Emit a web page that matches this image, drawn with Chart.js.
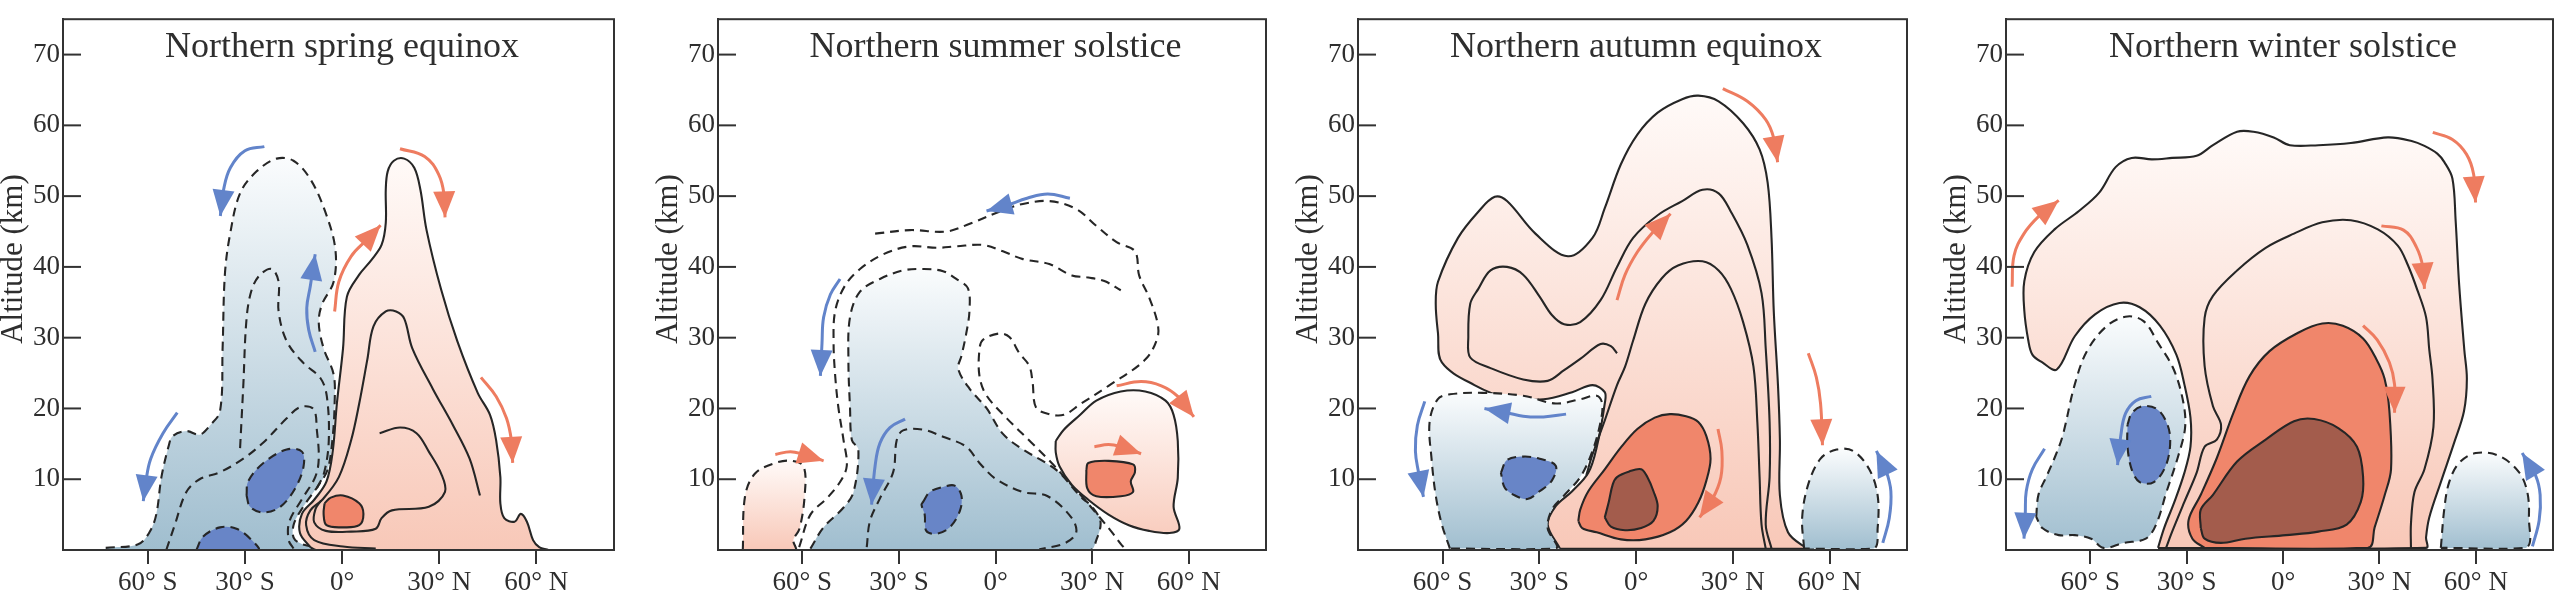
<!DOCTYPE html>
<html>
<head>
<meta charset="utf-8">
<script src="https://cdn.jsdelivr.net/npm/chart.js@4.4.1/dist/chart.umd.min.js"></script>
<style>
  html, body { margin: 0; padding: 0; background: #fff; }
  body { width: 2560px; height: 596px; position: relative; overflow: hidden; }
  .panel { position: absolute; top: 0; height: 596px; }
</style>
</head>
<body>
<div class="panel"><canvas id="c0"></canvas></div>
<div class="panel"><canvas id="c1"></canvas></div>
<div class="panel"><canvas id="c2"></canvas></div>
<div class="panel"><canvas id="c3"></canvas></div>
<script>
// axes
const xTicks = [-60, -30, 0, 30, 60];
const xTickLabels = ['60° S', '30° S', '0°', '30° N', '60° N'];
const yTicks = [10, 20, 30, 40, 50, 60, 70];
const panelTitles = ['Northern spring equinox', 'Northern summer solstice', 'Northern autumn equinox', 'Northern winter solstice'];

// contours: [latitude, altitude km]
// --- spring equinox
const springBlueOuter = [[-73,0.3],[-63,0.8],[-59.5,2.5],[-57.4,5],[-55.8,10.3],[-53.5,14.8],[-52.3,16.1],[-48.1,16.8],[-44,16.3],[-40.8,17.6],[-37.7,19.6],[-36.9,28.5],[-36.2,38.9],[-34.6,44.6],[-31.5,50.4],[-26.4,53.5],[-20.2,55.3],[-15,55],[-9.8,52.4],[-5.2,47.8],[-2.1,42.6],[-2.6,37.9],[-6.2,34.7],[-7.2,32.1],[-5.7,28.5],[-2.6,24.8],[-2.3,20.7],[-3,15.5],[-4.5,11.3],[-7.5,9],[-12,6.1],[-15,3.5],[-14.5,1.4],[-8,0.4],[5,0],[-73,0]];
const springBlueA = [[-54.3,0],[-51.7,3.5],[-48.1,8.2],[-44,10],[-37.7,11],[-30.5,12.9],[-24.3,15.2],[-17.1,18.6],[-12.9,20.2],[-8.8,19.9],[-7.8,17],[-7.2,12.9],[-8.3,10.3],[-12.5,7.1],[-16.3,4],[-16.5,1.4],[-15,0.2]];
const springBlueB = [[-31.5,14.4],[-30.5,23.3],[-29.5,32.7],[-27.9,36.8],[-25.3,38.9],[-21.7,39.7],[-19.6,37.9],[-19.6,33.7],[-17.1,29.5],[-11.9,26.4],[-6.7,24.3],[-4.7,21.7],[-4.1,15.5],[-5.5,11],[-8,8.5]];
const springBlueCore1 = [[-29.5,7.7],[-29,9.7],[-24.3,12.3],[-17.1,14.2],[-12.4,13.9],[-11.9,11.8],[-14.5,8.7],[-19.1,6.1],[-24.3,5.3],[-28.4,6.1]];
const springBlueCore2 = [[-45,0],[-42.9,1.9],[-37.7,3.2],[-32.6,3],[-27.9,1.4],[-25.9,0]];
const springRedOuter = [[-9.8,0.4],[-13,2.4],[-12.4,5.1],[-8.6,7.1],[-4.8,9.7],[-2.9,13.9],[-1.6,20.7],[0.3,28.5],[1.5,35.8],[5.3,38.9],[9.1,41],[12.2,43.1],[13.5,46.2],[13.5,50.9],[14.1,53.5],[16,55],[19.2,55.3],[22.3,54],[24.2,50.9],[26.1,45.2],[30.6,36.8],[35.6,29.5],[41.9,22.2],[45.7,19.1],[47.6,15.5],[48.9,10.3],[48.9,6.6],[50.1,4.5],[53.3,4],[55.2,5.1],[57.1,4],[59,1.4],[60.9,0.4],[63.4,0],[-8,0]];
const springRed3 = [[42.6,7.7],[39.4,12.9],[34.3,17.6],[28,22.8],[21.7,28.5],[19.2,32.7],[16.7,33.7],[13.5,33.7],[9.7,31.6],[7.8,26.9],[5.3,20.7],[2.8,15.5],[-1,10.3],[-6.1,7.1],[-9.8,5.6],[-11.1,3.5],[-8.6,1.4],[0.3,0.5],[10.4,0.2]];
const springRed2 = [[11.6,16.5],[17.9,17.3],[23,16.5],[26.8,13.9],[30.6,10.8],[31.8,8.2],[26.8,6.1],[15.4,5.6],[12.2,4.5],[10.4,3],[2.8,2.6],[-5,2.7],[-8.6,3.9],[-8.2,5.8],[-6.5,7]];
const springRedCore = [[-5.4,6.6],[-3.5,7.4],[0.3,7.7],[5.3,6.6],[6.6,5.1],[5.3,3.5],[0.3,3.2],[-4.8,3.5],[-5.7,5.1]];
const springBlueArrows = [
  [[-50.9,19.4],[-55.3,16.5],[-59.1,12.9],[-60.6,9.7],[-61.4,6.9]],
  [[-24,57],[-30,56.4],[-34.5,54],[-36.6,50.9],[-37.6,47.2]],
  [[-8.3,28],[-10.3,31.1],[-10.9,34.2],[-9.8,37.3],[-8.3,41.8]]
];
const springRedArrows = [
  [[-2.3,33.7],[-1,37.9],[2.8,41.5],[7.8,43.9],[11.9,45.9]],
  [[17.9,56.7],[25.5,55.6],[29.9,53],[31.6,49.9],[31.8,47]],
  [[42.9,24.4],[47.6,21.7],[50.8,18.6],[52.3,15.5],[52.7,12.3]]
];

// --- summer solstice
const summerBlueFill = [[-57.5,0.2],[-53.4,3.2],[-47.2,6],[-44.1,8.2],[-42.6,14.2],[-44.6,15.5],[-45.2,20.1],[-45.7,26.9],[-45.2,32.9],[-42.1,36.5],[-35.9,38.3],[-28.7,39.5],[-22.5,39.7],[-16.3,39.4],[-12.2,38.3],[-8.6,37],[-8.1,33.8],[-9.1,30.6],[-10.6,27.4],[-11.6,25.6],[-8.1,22.8],[-2.9,20.1],[2.3,16.4],[8.5,14.2],[15.7,12.3],[19.9,10.9],[26.3,7.6],[30,6.1],[32.6,4],[31.3,1.4],[29.4,0],[-57.5,0]];
const summerLineY = [[-61,0.4],[-57.5,5],[-52.4,7.3],[-48.3,9.6],[-46.2,11.9],[-47.2,15.5],[-48.8,20.1],[-49.8,24.6],[-50.3,29.2],[-49.8,33.8],[-46.7,37.4],[-42.1,39.7],[-34.8,41.8],[-26.6,42.9],[-18.3,42.7],[-12.2,42.9],[-3.9,43.1],[2.3,42.2],[8.5,41.1],[16.7,40.4],[23.7,38.8],[28.8,38.5],[33.8,38],[38.9,36.7]];
const summerLineX = [[-37.4,44.7],[-26.6,45.2],[-15.3,45],[-8,46.1],[2.3,48],[8.5,48.9],[16.7,49.3],[25,48.2],[31.3,45.8],[37.6,43.5],[43.3,42.2],[44.6,38.8],[47.7,35.7],[50.3,32.1],[50.3,30],[46.5,26.9],[35.1,23.2],[26.3,20.6],[21.2,19.1],[16.7,19.2],[12.6,20.1],[11.5,23.7],[10.5,26],[7.4,27.8],[4.3,30.1],[1.2,30.6],[-3.9,29.7],[-5,28.3],[-5,24.6],[-2.9,21.9],[3.5,18.6],[11.1,15.2],[17,12.5],[22,10],[27.5,7.2],[32,4.8],[36,2.6],[39,0.8],[40.2,0.2]];
const summerInner = [[-40,0.4],[-39,4.1],[-35.9,7.3],[-31.8,11],[-30.7,15.5],[-28.7,16.9],[-22.5,17],[-16.3,16],[-9.1,14.6],[-5,12.3],[0.2,10],[8.5,8.2],[16.2,7.6],[23.7,4.5],[25,2.4],[21.2,0.9],[13.6,0.1]];
const summerBlueCore = [[-22.5,6.8],[-20.4,8.2],[-16.3,8.9],[-12.7,9.1],[-10.6,7.7],[-11.1,5.5],[-14.2,3.2],[-18.3,2.3],[-21.5,2.7],[-22,5],[-23,6.4]];
const summerRedLeft = [[-78.5,0],[-77.8,7.6],[-74.7,10.8],[-68.4,12.3],[-63.4,12.6],[-59.6,11.8],[-59.3,7.6],[-60.9,3],[-62.8,1.4],[-62.2,0]];
const summerRedRight = [[18.7,15.4],[21.2,17],[26.3,19.1],[31.3,21.1],[38.9,22.4],[46.5,22.4],[52.8,21.1],[55.3,19.1],[56.6,15.4],[56.6,10.2],[55.3,6.1],[57.1,3],[54,2.4],[47.7,2.7],[41.4,3.5],[35.1,5],[28.8,7.1],[23.7,9.2],[19.9,11.8],[18.7,13.8]];
const summerRedCore = [[28.2,11.3],[28.8,12.3],[35.1,12.6],[42.7,12.1],[43.3,11],[42,9.7],[42.7,8.2],[38.9,7.6],[31.3,7.6],[28.5,8.7]];
const summerBlueArrows = [
  [[23.1,49.7],[16.2,50.3],[9.8,49.7],[3.5,48.7],[-2.8,47.9]],
  [[-48.3,38.3],[-51.3,36.1],[-53.4,32.9],[-53.9,29.2],[-54.4,24.6]],
  [[-28.1,18.5],[-32.8,17.3],[-35.9,15.1],[-37.4,11.9],[-38.5,6.4]]
];
const summerRedArrows = [
  [[-68.4,13.5],[-63.7,13.9],[-59.6,13.5],[-53.4,12.6]],
  [[37.6,23.2],[45.2,23.8],[51.5,23.2],[56.6,21.7],[61.6,18.8]],
  [[30.7,14.6],[35.1,14.9],[38.9,14.6],[45.2,13.6]]
];

// --- autumn equinox
const autumnRedOuter = [[-23.6,0.2],[-27.4,3.6],[-24.9,6.2],[-19.8,8.3],[-14.8,10.9],[-12.2,14.5],[-9.7,20.7],[-9.7,22.3],[-13.5,23.3],[-19.8,22.3],[-28.7,21.3],[-40,21.5],[-50.1,23.3],[-60.2,26.5],[-61.4,30.6],[-62.1,34.8],[-61.4,37.9],[-55.2,44.1],[-48.9,47.8],[-43.8,49.9],[-40,49.3],[-31.2,44.7],[-21.1,41.5],[-13.5,44.1],[-9.7,48.3],[-4.7,54.5],[0.4,58.7],[6.7,61.8],[14.3,63.7],[19.3,64.2],[25.6,63.4],[33.2,60.3],[38.3,56.6],[40.8,51.9],[42,44.1],[42.7,33.7],[44,23.3],[44.6,15.5],[44.6,7.7],[47.1,2.5],[52.1,0.5],[54.7,0.2]];
const autumnRed2 = [[-5.9,27.8],[-7.8,28.8],[-11,29.1],[-17.3,27],[-22.3,25.4],[-27.4,23.9],[-35,24.1],[-45.1,25.7],[-51.4,27.2],[-52,30.1],[-51.4,34.8],[-48.9,36.9],[-45.1,39.5],[-40,40],[-35,38.9],[-29.9,35.8],[-26.1,33.2],[-22.3,31.9],[-17.3,32.2],[-11,35.3],[-5.9,40],[-0.9,44.1],[6.7,47.3],[14.3,49.3],[20.6,50.9],[25.6,50.4],[29.4,47.8],[34.5,43.1],[38.9,36.3],[40.2,28.5],[41.4,18.1],[41.4,10.3],[40.2,3.6],[42,0.2]];
const autumnRed3 = [[-15.4,10.6],[-13.5,13.5],[-9.7,18.3],[-5.9,23.3],[-3.4,25.9],[-0.9,29.6],[2.9,34.8],[8,38.4],[13,40.2],[20.6,40.8],[25.6,39.5],[29.4,36.9],[33.2,32.2],[36.4,25.9],[37.6,18.1],[38.3,10.3],[38.9,3.6],[40.2,0.2]];
const autumnRedMid = [[-17.9,4.1],[-17.3,5.7],[-14.8,8.3],[-9.7,11.4],[-4.7,14.5],[0.4,17.1],[5.8,18.7],[10.5,19.2],[15.5,18.9],[19.3,18.1],[21.8,16.1],[23.1,12.9],[21.8,9.8],[19.3,6.7],[15.5,4.1],[10.5,2.5],[2.9,1.5],[-4.7,1.5],[-12.2,2.5],[-16.7,3.1]];
const autumnRedCore = [[-9.7,4.6],[-8.5,6.7],[-7.2,9.3],[-5.9,10.3],[-2.1,11.1],[1.6,11.4],[3.5,10.3],[5.4,8.3],[6.7,6.2],[5.4,4.1],[1.6,3.1],[-3.4,2.8],[-7.8,3.3]];
const autumnBlueLeft = [[-57.7,0.2],[-60.2,3.6],[-62.1,7.7],[-63.4,12.9],[-64,18.1],[-61.5,21.3],[-57.7,22],[-47.6,22.2],[-35,21.8],[-24.9,20.7],[-17.3,21.3],[-12.2,21.8],[-10.5,20.7],[-11,18.1],[-13.5,14],[-17.3,10.3],[-22.3,7.7],[-26.1,5.7],[-27.4,3.1],[-24.9,0.2]];
const autumnBlueCore = [[-41.9,10.9],[-40,12.7],[-35,13.2],[-29.9,12.9],[-24.9,11.9],[-26.1,9.8],[-29.9,8.3],[-33.7,7.2],[-37.5,7.7],[-40.7,8.8]];
const autumnBlueRight = [[52.1,0.2],[51.5,4.6],[53.4,9.3],[57.2,12.9],[62.2,14.2],[67.3,14],[72.3,11.4],[74.9,7.7],[74.9,3.1],[73.6,0.2]];
const autumnBlueArrows = [
  [[-65.5,21],[-67.8,17.6],[-68.4,14],[-67.4,10.9],[-65.9,7.5]],
  [[-21.7,19.2],[-28.7,18.8],[-35,18.9],[-40,19.4],[-47,20]],
  [[76.5,1],[78.5,4.5],[79,8.3],[77.5,11.2],[74.5,14]]
];
const autumnRedArrows = [
  [[26.9,65.2],[34.5,63.4],[40.2,60.8],[42.7,58.2],[43.9,54.8]],
  [[-5.9,35.3],[-3.4,38.9],[0.4,42.1],[4.8,44.7],[10.7,47.5]],
  [[53.4,27.8],[55.9,24.4],[57.2,20.7],[57.8,14.8]],
  [[25.4,17.1],[26.6,14],[26.3,10.3],[23.7,7.2],[19.7,4.6]]
];

// --- winter solstice
const winterRedOuter = [[-38.9,0.3],[-37,3.1],[-33.8,6.8],[-30.7,10.9],[-28.8,14.6],[-28.8,18.7],[-30.7,23.4],[-33.2,27.6],[-38.3,31.7],[-44.6,34.3],[-50.9,34.9],[-58.5,33.3],[-64.8,30.2],[-70.4,25.5],[-74.9,26.5],[-78,27.6],[-79.3,29.7],[-80.5,33.8],[-80.5,38],[-77.4,42.1],[-71.1,45.3],[-63.5,47.9],[-57.2,50.5],[-52.1,54.1],[-47.1,55.4],[-40.8,55.2],[-34.5,55.4],[-26.9,55.7],[-21.8,57.2],[-14.3,59.1],[-9.2,59.1],[-2.9,58.3],[2.1,57.2],[11,57.2],[21.1,57.5],[32.6,58.3],[40,57.8],[44,57.1],[48,56],[50.2,54.8],[52.7,52.5],[53.7,46.6],[54.8,37.5],[56.4,28.3],[57.2,24.2],[56.3,19.6],[53.2,15.1],[49.1,9.6],[45.5,4.6],[44.5,1.8],[44.5,0.3]];
const winterRed2 = [[-36.4,0.3],[-34.5,2.6],[-30.7,6.8],[-26.9,10.9],[-24.4,14.6],[-20.6,15.6],[-19.3,17.7],[-21.8,20.3],[-24.4,26],[-24.4,32.8],[-21.8,35.9],[-14.3,39.5],[-5.4,42.7],[3.4,44.7],[12.2,46.3],[21.1,46.6],[29.5,45.3],[35.7,43],[38.8,40.3],[41.9,36.6],[44.5,32.9],[45.5,28.3],[46.5,24.2],[46.8,17.4],[44,11.4],[40.9,8.2],[39.8,3.7],[39.8,0.3]];
const winterRedMid = [[-24.4,0.3],[-28.2,1.6],[-29.4,4.2],[-25.6,7.8],[-20.6,13],[-15.5,19.3],[-10.5,24.5],[-4.2,28.1],[4.7,30.7],[12.2,32],[18.6,31.7],[24.9,29.9],[29,27],[31.6,24.2],[33.1,19.6],[33.6,11.4],[31.6,7.7],[28.5,3.2],[26.4,0.3]];
const winterRedCore = [[-25.6,3.1],[-25.6,5.7],[-21.8,7.8],[-14.3,12.5],[-5.4,15.6],[3.4,18.2],[9.7,18.5],[17.3,17.2],[23,14.6],[24.9,10.4],[24.2,6.8],[19.8,3.6],[11,2.6],[0.9,2.1],[-11.7,1.6],[-19.3,1],[-24.4,1.6]];
const winterBlueLeft = [[-76.8,4.7],[-76.1,7.8],[-73.6,10.4],[-71.1,13],[-68.6,16.1],[-64.8,23.4],[-61,28.1],[-54.7,31.7],[-48.4,33],[-43.3,32.3],[-38.8,29.2],[-34,25.5],[-31,20.8],[-30.5,17.2],[-32.8,13],[-36.2,8.3],[-39.5,3.6],[-42.7,1.6],[-49.6,1],[-55.9,0.3],[-59.7,1.6],[-64.8,2.1],[-69.8,2.1],[-74.9,3.1]];
const winterBlueCore = [[-48.4,17.7],[-47.1,19.3],[-43.9,20.3],[-39.5,20],[-36.4,18.2],[-35.1,15.6],[-36.4,12],[-40.2,9.6],[-44.6,9.6],[-47.1,11.4],[-48.4,14.6]];
const winterBlueRight = [[49.1,0.3],[50.2,5.9],[51.7,9.6],[54.8,12.3],[60,13.7],[67.2,13.3],[73.4,11],[76,8.2],[76.5,4.6],[75.5,0.3]];
const winterBlueArrows = [
  [[-74.2,14.3],[-78,11.4],[-79.9,8.3],[-80.2,5.2],[-80.6,1.6]],
  [[-41,21.7],[-45.8,21.1],[-49,19.3],[-50.5,16.1],[-51.5,12]],
  [[77.6,0.5],[79.7,4.2],[80,7.8],[78.6,10.5],[74.4,13.7]]
];
const winterRedArrows = [
  [[-84.3,37.2],[-83.7,41.6],[-80.6,44.7],[-76.1,47.1],[-69.8,49.4]],
  [[46.6,59],[52.7,58],[57.1,55.9],[59.3,53.1],[59.9,49.1]],
  [[30.6,45.8],[37.5,45.2],[41.5,42.8],[43.5,40],[44,36.9]],
  [[24.9,31.7],[29.3,29.7],[33.1,26.5],[34.7,23.4],[34.7,19.4]]
];

// styles
const LINE = '#262626';
const DASH = [9, 6];
const BLUE_ARROW = 'rgb(98,132,202)';
const RED_ARROW = 'rgb(238,124,96)';
const BLUE_DARK = 'rgb(104,133,199)';
const RED_MID = 'rgb(240,134,107)';
const RED_DARK = 'rgb(163,92,76)';

function toXY(arr) { return arr.map(p => ({ x: p[0], y: p[1] })); }

function vGrad(top, bottom, arr) {
  const topAlt = Math.max(...arr.map(p => p[1]));
  return function (context) {
    const chart = context.chart;
    if (!chart.chartArea) return bottom;
    const y = chart.scales.y;
    const g = chart.ctx.createLinearGradient(0, y.getPixelForValue(topAlt), 0, y.getPixelForValue(0));
    g.addColorStop(0, top);
    g.addColorStop(1, bottom);
    return g;
  };
}
const blueLight = arr => vGrad('rgb(250,252,253)', 'rgb(160,190,207)', arr);
const redLight = arr => vGrad('rgb(255,250,248)', 'rgb(248,200,184)', arr);

function shape(arr, fillStyle, dashed) {
  return {
    data: toXY(arr.concat([arr[0]])), fill: 'shape', backgroundColor: fillStyle,
    borderColor: LINE, borderWidth: 2.1, borderDash: dashed ? DASH : [], tension: 0.35
  };
}
function contour(arr, dashed) {
  return { data: toXY(arr), fill: false, borderColor: LINE, borderWidth: 2.1, borderDash: dashed ? DASH : [], tension: 0.35 };
}
function arrow(arr, color) {
  return { data: toXY(arr), fill: false, borderColor: color, borderWidth: 3, tension: 0.4, arrowHead: true };
}

// back to front
const panels = [
  [
    shape(springBlueOuter, blueLight(springBlueOuter), true),
    contour(springBlueA, true),
    contour(springBlueB, true),
    shape(springBlueCore1, BLUE_DARK, true),
    shape(springBlueCore2, BLUE_DARK, true),
    shape(springRedOuter, redLight(springRedOuter), false),
    contour(springRed3, false),
    contour(springRed2, false),
    shape(springRedCore, RED_MID, false),
    ...springBlueArrows.map(a => arrow(a, BLUE_ARROW)),
    ...springRedArrows.map(a => arrow(a, RED_ARROW))
  ],
  [
    shape(summerBlueFill, blueLight(summerBlueFill), true),
    contour(summerLineY, true),
    contour(summerLineX, true),
    contour(summerInner, true),
    shape(summerBlueCore, BLUE_DARK, true),
    shape(summerRedLeft, redLight(summerRedLeft), true),
    shape(summerRedRight, redLight(summerRedRight), false),
    shape(summerRedCore, RED_MID, false),
    ...summerBlueArrows.map(a => arrow(a, BLUE_ARROW)),
    ...summerRedArrows.map(a => arrow(a, RED_ARROW))
  ],
  [
    shape(autumnRedOuter, redLight(autumnRedOuter), false),
    contour(autumnRed2, false),
    contour(autumnRed3, false),
    shape(autumnRedMid, RED_MID, false),
    shape(autumnRedCore, RED_DARK, false),
    shape(autumnBlueLeft, blueLight(autumnBlueLeft), true),
    shape(autumnBlueCore, BLUE_DARK, true),
    shape(autumnBlueRight, blueLight(autumnBlueRight), true),
    ...autumnBlueArrows.map(a => arrow(a, BLUE_ARROW)),
    ...autumnRedArrows.map(a => arrow(a, RED_ARROW))
  ],
  [
    shape(winterRedOuter, redLight(winterRedOuter), false),
    contour(winterRed2, false),
    shape(winterRedMid, RED_MID, false),
    shape(winterRedCore, RED_DARK, false),
    shape(winterBlueLeft, blueLight(winterBlueLeft), true),
    shape(winterBlueCore, BLUE_DARK, true),
    shape(winterBlueRight, blueLight(winterBlueRight), true),
    ...winterBlueArrows.map(a => arrow(a, BLUE_ARROW)),
    ...winterRedArrows.map(a => arrow(a, RED_ARROW))
  ]
];

// plot area edges in the page
const plotLeft = [63, 718, 1358, 2006];
const plotRight = [614, 1266, 1907, 2553];

const decor = {
  id: 'decor',
  afterDatasetsDraw(chart, args, opts) {
    const { ctx, chartArea: a, scales } = chart;
    ctx.save();
    chart.data.datasets.forEach((ds, i) => {
      if (!ds.arrowHead) return;
      const pts = chart.getDatasetMeta(i).data;
      const tip = pts[pts.length - 1];
      const prev = pts[pts.length - 2];
      const ang = Math.atan2(tip.y - prev.y, tip.x - prev.x);
      const len = 26, half = 11;
      const bx = tip.x - len * Math.cos(ang), by = tip.y - len * Math.sin(ang);
      ctx.fillStyle = ds.borderColor;
      ctx.beginPath();
      ctx.moveTo(tip.x, tip.y);
      ctx.lineTo(bx + half * Math.sin(ang), by - half * Math.cos(ang));
      ctx.lineTo(bx - half * Math.sin(ang), by + half * Math.cos(ang));
      ctx.closePath();
      ctx.fill();
    });
    ctx.strokeStyle = '#333';
    ctx.lineWidth = 2;
    ctx.strokeRect(a.left, a.top, a.right - a.left, a.bottom - a.top);
    yTicks.forEach(v => {
      const y = scales.y.getPixelForValue(v);
      ctx.beginPath();
      ctx.moveTo(a.left, y);
      ctx.lineTo(a.left + 18, y);
      ctx.stroke();
    });
    ctx.fillStyle = '#2e2e2e';
    ctx.font = '36px "Liberation Serif"';
    ctx.textAlign = 'center';
    ctx.textBaseline = 'alphabetic';
    ctx.fillText(opts.title, scales.x.getPixelForValue(0), a.top + 38);
    ctx.translate(a.left - 49, 259);
    ctx.rotate(-Math.PI / 2);
    ctx.font = '31px "Liberation Serif"';
    ctx.textBaseline = 'middle';
    ctx.fillText('Altitude (km)', 0, 0);
    ctx.restore();
  }
};

panels.forEach((list, i) => {
  const canvas = document.getElementById('c' + i);
  const width = plotRight[i] - plotLeft[i] + 63 + 3;
  canvas.parentNode.style.left = (plotLeft[i] - 63) + 'px';
  canvas.width = width;
  canvas.height = 596;
  canvas.style.width = width + 'px';
  canvas.style.height = '596px';
  list.forEach((ds, k) => { ds.order = list.length - k; ds.pointRadius = 0; });

  new Chart(canvas, {
    type: 'line',
    data: { datasets: list },
    options: {
      responsive: false,
      animation: false,
      events: [],
      layout: { padding: { top: 3, right: 3, left: 0, bottom: 0 } },
      elements: { point: { radius: 0 }, line: { borderJoinStyle: 'round' } },
      plugins: {
        legend: { display: false },
        tooltip: { enabled: false },
        decor: { title: panelTitles[i] }
      },
      scales: {
        x: {
          type: 'linear', min: -86.2, max: 84,
          afterFit: s => { s.height = 46; },
          afterBuildTicks: s => { s.ticks = xTicks.map(v => ({ value: v })); },
          grid: { drawOnChartArea: false, drawTicks: true, tickLength: 14, color: '#333', lineWidth: 2 },
          border: { display: true, color: '#333', width: 2 },
          ticks: {
            callback: v => xTickLabels[xTicks.indexOf(v)],
            font: { family: '"Liberation Serif"', size: 27 },
            color: '#2e2e2e', padding: 3, maxRotation: 0, minRotation: 0, autoSkip: false
          }
        },
        y: {
          type: 'linear', min: 0, max: 75,
          afterFit: s => { s.width = 63; },
          afterBuildTicks: s => { s.ticks = yTicks.map(v => ({ value: v })); },
          grid: { display: false, drawTicks: false },
          border: { display: true, color: '#333', width: 2 },
          ticks: { font: { family: '"Liberation Serif"', size: 27 }, color: '#2e2e2e', padding: 3 }
        }
      }
    },
    plugins: [decor]
  });
});
</script>
</body>
</html>
